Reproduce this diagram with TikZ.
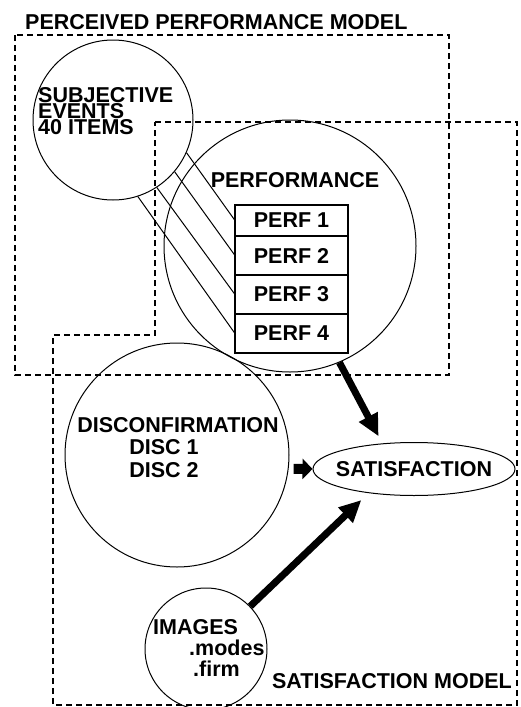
\documentclass[tikz,border=0pt]{standalone}
\usepackage{fontspec}
\setmainfont{Liberation Sans}
\usetikzlibrary{positioning,shapes.geometric,arrows.meta}
\setlength{\lineskiplimit}{-100pt}

\tikzset{
    lbl/.style={font=\bfseries\fontsize{21.5}{#1}\selectfont, inner sep=0pt},
    lbl/.default=14,
    ring/.style={draw, circle, line width=1pt, inner sep=0pt},
    frame/.style={line width=1.3pt, dash pattern=on 6pt off 4pt},
    perfrow/.style={draw, line width=1.2pt, minimum width=113pt, minimum height=39pt,
        inner sep=0pt, outer sep=0pt, font=\bfseries\fontsize{21.5}{14}\selectfont},
    feed/.style={line width=1pt},
    fat/.style={line width=7pt, -{Triangle[length=22pt,width=20pt]}}
}

\begin{document}
\begin{tikzpicture}[x=1pt,y=-1pt]
    \useasboundingbox (0,0) rectangle (520,707);
    % Frames
    \draw[frame] (15,35) rectangle (449,375);
    \draw[frame] (155,122) -- (517,122) -- (517,705) -- (53,705) -- (53,335) -- (155,335) -- cycle;
    % Labels
    \node[lbl, anchor=base west] (ppmodel) at (25,29) {PERCEIVED PERFORMANCE MODEL};
    \node[lbl, anchor=base east] (smodel) at (512,688) {SATISFACTION MODEL};
    % Subjective events
    \node[ring, minimum size=160pt] (subj) at (113,120) {};
    \node[lbl=16, anchor=base west, align=left] (subjtxt) at (38,134) {SUBJECTIVE\\EVENTS\\40 ITEMS};
    % Performance
    \node[ring, minimum size=252pt] (perf) at (290,246) {};
    \node[lbl, anchor=base] (perftxt) at (295,187) {PERFORMANCE};
    \node[perfrow, minimum height=31pt, anchor=north] (perf1) at (291.5,205) {PERF 1};
    \node[perfrow, below=0pt of perf1] (perf2) {PERF 2};
    \node[perfrow, below=0pt of perf2] (perf3) {PERF 3};
    \node[perfrow, below=0pt of perf3] (perf4) {PERF 4};
    \draw[feed] (subj.-24) -- (perf1.west);
    \draw[feed] (subj.-40) -- (perf2.west);
    \draw[feed] (subj.-57) -- (perf3.west);
    \draw[feed] (subj.-72) -- (perf4.west);
    % Disconfirmation
    \node[ring, minimum size=224pt] (disc) at (177,455) {};
    \node[lbl, anchor=base] (disctxt) at (178,432) {DISCONFIRMATION};
    \node[lbl=23, anchor=base, align=center] (discitems) at (164,477) {DISC 1\\DISC 2};
    % Satisfaction
    \node[draw, ellipse, line width=1pt, inner sep=0pt, minimum width=202pt, minimum height=53pt] (sat) at (414,469) {};
    \node[lbl] (sattxt) at (sat.center) {SATISFACTION};
    % Images
    \node[ring, minimum size=122pt] (img) at (206,649) {};
    \node[lbl=21, anchor=base west, align=left] (imgtxt) at (153,676)
        {IMAGES\\\hspace*{36pt}.modes\\\hspace*{40pt}.firm};
    % Arrows
    \draw[fat, shorten >=8pt] (perf.-67) -- (sat.141);
    \draw[line width=10pt, -{Triangle[length=10pt,width=20pt]}, shorten <=5pt] (disc.-7) -- (sat.west);
    \draw[fat, shorten >=10pt] (img.44) -- (sat.208);
\end{tikzpicture}
\end{document}
